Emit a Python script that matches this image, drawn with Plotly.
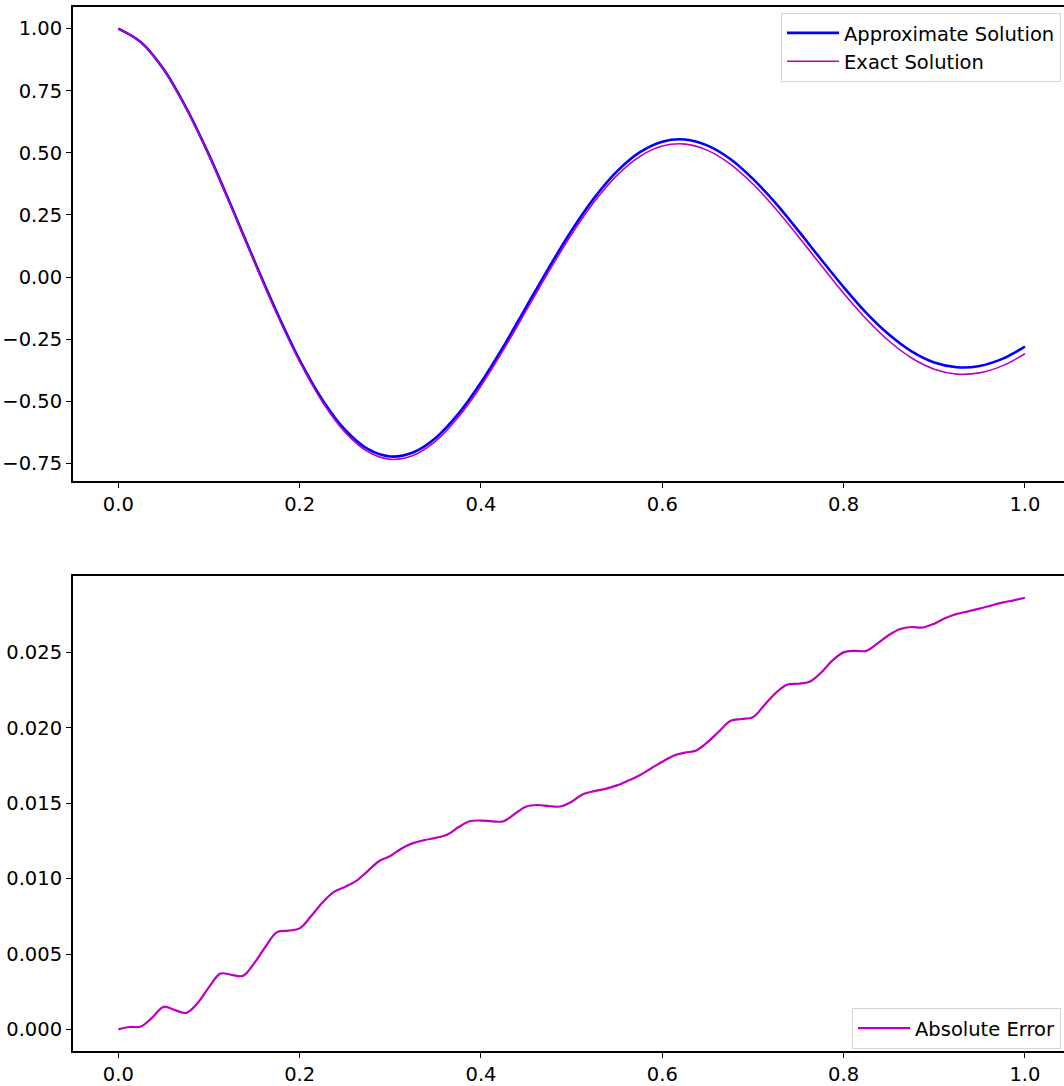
import plotly.graph_objects as go

# ---- data ----
t_sol = [0.000, 0.025, 0.050, 0.075, 0.100, 0.125, 0.150, 0.175, 0.200, 0.225,
         0.250, 0.275, 0.300, 0.325, 0.350, 0.375, 0.400, 0.425, 0.450, 0.475,
         0.500, 0.525, 0.550, 0.575, 0.600, 0.625, 0.650, 0.675, 0.700, 0.725,
         0.750, 0.775, 0.800, 0.825, 0.850, 0.875, 0.900, 0.925, 0.950, 0.975, 1.000]

exact_solution = [1.0000, 0.9450, 0.8348, 0.6788, 0.4889, 0.2783, 0.0609, -0.1496, -0.3407, -0.5016,
                  -0.6239, -0.7021, -0.7334, -0.7183, -0.6600, -0.5640, -0.4381, -0.2917, -0.1344, 0.0234,
                  0.1721, 0.3029, 0.4089, 0.4846, 0.5270, 0.5351, 0.5098, 0.4547, 0.3744, 0.2752,
                  0.1637, 0.0481, -0.0654, -0.1690, -0.2573, -0.3255, -0.3705, -0.3905, -0.3856, -0.3574, -0.3087]

approx_solution = [1.0000, 0.9452, 0.8363, 0.6799, 0.4917, 0.2819, 0.0653, -0.1431, -0.3340, -0.4932,
                   -0.6144, -0.6916, -0.7219, -0.7059, -0.6473, -0.5506, -0.4242, -0.2779, -0.1196, 0.0382,
                   0.1872, 0.3187, 0.4251, 0.5015, 0.5448, 0.5535, 0.5289, 0.4752, 0.3951, 0.2975,
                   0.1866, 0.0718, -0.0404, -0.1439, -0.2311, -0.2988, -0.3436, -0.3629, -0.3577, -0.3291, -0.2801]

t_err = [0.0000, 0.0125, 0.0250, 0.0375, 0.0500, 0.0625, 0.0750, 0.0875, 0.1000, 0.1125,
         0.1250, 0.1375, 0.1500, 0.1625, 0.1750, 0.1875, 0.2000, 0.2125, 0.2250, 0.2375,
         0.2500, 0.2625, 0.2750, 0.2875, 0.3000, 0.3125, 0.3250, 0.3375, 0.3500, 0.3625,
         0.3750, 0.3875, 0.4000, 0.4125, 0.4250, 0.4375, 0.4500, 0.4625, 0.4750, 0.4875,
         0.5000, 0.5125, 0.5250, 0.5375, 0.5500, 0.5625, 0.5750, 0.5875, 0.6000, 0.6125,
         0.6250, 0.6375, 0.6500, 0.6625, 0.6750, 0.6875, 0.7000, 0.7125, 0.7250, 0.7375,
         0.7500, 0.7625, 0.7750, 0.7875, 0.8000, 0.8125, 0.8250, 0.8375, 0.8500, 0.8625,
         0.8750, 0.8875, 0.9000, 0.9125, 0.9250, 0.9375, 0.9500, 0.9625, 0.9750, 0.9875, 1.0000]

abs_error = [0.00000, 0.00016, 0.00020, 0.00080, 0.00150, 0.00128, 0.00110, 0.00175, 0.00280, 0.00370,
             0.00362, 0.00355, 0.00440, 0.00550, 0.00645, 0.00655, 0.00670, 0.00750, 0.00840, 0.00910,
             0.00945, 0.00985, 0.01050, 0.01115, 0.01150, 0.01200, 0.01235, 0.01255, 0.01270, 0.01290,
             0.01340, 0.01380, 0.01385, 0.01380, 0.01380, 0.01430, 0.01478, 0.01488, 0.01480, 0.01478,
             0.01510, 0.01560, 0.01580, 0.01595, 0.01618, 0.01650, 0.01685, 0.01730, 0.01775, 0.01815,
             0.01835, 0.01850, 0.01905, 0.01975, 0.02045, 0.02058, 0.02070, 0.02150, 0.02230, 0.02285,
             0.02292, 0.02305, 0.02365, 0.02445, 0.02500, 0.02510, 0.02510, 0.02560, 0.02615, 0.02655,
             0.02668, 0.02665, 0.02690, 0.02728, 0.02755, 0.02772, 0.02790, 0.02810, 0.02830, 0.02845, 0.02862]

x_ticks = [0.0, 0.2, 0.4, 0.6, 0.8, 1.0]
y_ticks_top = [-0.75, -0.50, -0.25, 0.00, 0.25, 0.50, 0.75, 1.00]
y_ticks_bot = [0.000, 0.005, 0.010, 0.015, 0.020, 0.025]

FONT = "DejaVu Sans"
BLUE = "#0000ff"
MAG = "#bf00bf"

fig = go.Figure()
fig.add_trace(go.Scatter(x=t_sol, y=approx_solution, mode="lines", name="Approximate Solution",
                         line=dict(color=BLUE, width=2.6, shape="spline", smoothing=1),
                         xaxis="x", yaxis="y", legend="legend"))
fig.add_trace(go.Scatter(x=t_sol, y=exact_solution, mode="lines", name="Exact Solution",
                         line=dict(color=MAG, width=1.6, shape="spline", smoothing=1),
                         xaxis="x", yaxis="y", legend="legend"))
fig.add_trace(go.Scatter(x=t_err, y=abs_error, mode="lines", name="Absolute Error",
                         line=dict(color=MAG, width=2.2, shape="spline", smoothing=1),
                         xaxis="x2", yaxis="y2", legend="legend2"))

common_x = dict(range=[-0.05, 1.0431], tickvals=x_ticks, tickformat=".1f",
                showgrid=False, zeroline=False, showline=True, linecolor="black", linewidth=2,
                mirror=True, ticks="outside", ticklen=5, tickwidth=1.2, tickcolor="black",
                tickfont=dict(family=FONT, size=19.5, color="black"))
common_y = dict(showgrid=False, zeroline=False, showline=True, linecolor="black", linewidth=2,
                mirror=False, ticks="outside", ticklen=5, tickwidth=1.2, tickcolor="black",
                tickfont=dict(family=FONT, size=19.5, color="black"))

legend_style = dict(font=dict(family=FONT, size=19.5, color="black"), bgcolor="white",
                    bordercolor="#d4d4d4", borderwidth=1, xref="paper", yref="paper",
                    itemwidth=52, tracegroupgap=0)

fig.update_layout(
    width=1064, height=1086,
    margin=dict(l=73, r=0, t=7, b=28),
    paper_bgcolor="white", plot_bgcolor="white",
    font=dict(family=FONT, size=19.5, color="black"),
    xaxis=dict(domain=[0, 1], anchor="y", **common_x),
    yaxis=dict(domain=[0.5461, 1.0], anchor="x", range=[-0.8201, 1.0867],
               tickvals=y_ticks_top, tickformat=".2f", **common_y),
    xaxis2=dict(domain=[0, 1], anchor="y2", **common_x),
    yaxis2=dict(domain=[0.0, 0.4548], anchor="x2", range=[-0.00143, 0.03005],
                tickvals=y_ticks_bot, tickformat=".3f", **common_y),
    legend=dict(x=0.997, y=0.9945, xanchor="right", yanchor="top", **legend_style),
    legend2=dict(x=0.997, y=0.002, xanchor="right", yanchor="bottom", **legend_style),
    showlegend=True,
)

fig.write_html("out.html")
